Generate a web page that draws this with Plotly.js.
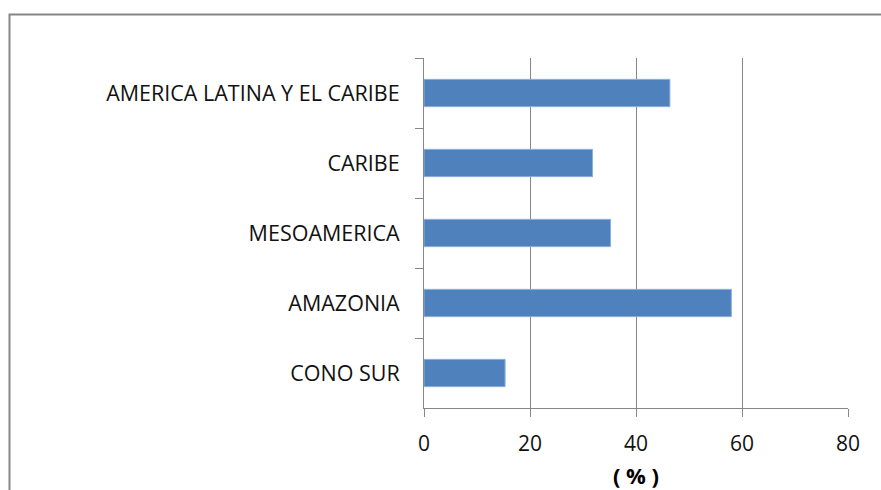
<!DOCTYPE html>
<html>
<head>
<meta charset="utf-8">
<script src="https://cdn.plot.ly/plotly-3.0.1.min.js"></script>
<style>html,body{margin:0;padding:0;background:#fff;overflow:hidden;}</style>
</head>
<body>
<div id="chart" style="width:881px;height:490px;"></div>
<script>
const categories = ["AMERICA LATINA Y EL CARIBE", "CARIBE", "MESOAMERICA", "AMAZONIA", "CONO SUR"];
const values = [46.4, 31.8, 35.2, 58.0, 15.3];
const xTicks = [0, 20, 40, 60, 80];
const xTitle = "( % )";

const trace = {
  type: "bar",
  orientation: "h",
  y: categories,
  x: values,
  marker: {color: "#4F81BD", line: {color: "#8DB0DB", width: 1}},
  hoverinfo: "none"
};

const W = 881, H = 490, L = 424, R = 33, T = 58, B = 82;
const pw = W - L - R, ph = H - T - B;
const px = p => (p - L) / pw;
const py = p => (H - B - p) / ph;
const FONT = "Open Sans, sans-serif";

const layout = {
  width: W, height: H,
  margin: {l: L, r: R, t: T, b: B, pad: 0},
  paper_bgcolor: "#ffffff",
  plot_bgcolor: "#ffffff",
  showlegend: false,
  bargap: 0.61,
  font: {family: FONT, size: 21, color: "#000000"},
  xaxis: {
    range: [0, 80],
    tickvals: xTicks,
    ticktext: xTicks.map(String),
    showgrid: true, gridcolor: "#868686", gridwidth: 1,
    zeroline: false,
    showline: true, linecolor: "#868686", linewidth: 1,
    ticks: "outside", ticklen: 8, tickcolor: "#868686",
    ticklabelstandoff: 9,
    tickfont: {family: FONT, size: 21, color: "#111"},
    title: {text: xTitle, font: {family: FONT, size: 22, color: "#000", weight: "bold"}, standoff: 13},
    fixedrange: true
  },
  yaxis: {
    type: "category",
    categoryorder: "array",
    categoryarray: categories,
    autorange: "reversed",
    showgrid: false,
    showline: true, linecolor: "#868686", linewidth: 1,
    ticks: "outside", ticklen: 8, tickcolor: "#868686",
    tickson: "boundaries",
    ticklabelstandoff: 19,
    tickfont: {family: FONT, size: 21.5, color: "#111"},
    fixedrange: true
  },
  shapes: [{
    type: "rect", xref: "paper", yref: "paper",
    x0: px(9.5), x1: px(W + 20), y0: py(H + 20), y1: py(14.5),
    line: {color: "#868686", width: 2}, layer: "below"
  }]
};

Plotly.newPlot("chart", [trace], layout, {displayModeBar: false, staticPlot: true});
</script>
</body>
</html>
